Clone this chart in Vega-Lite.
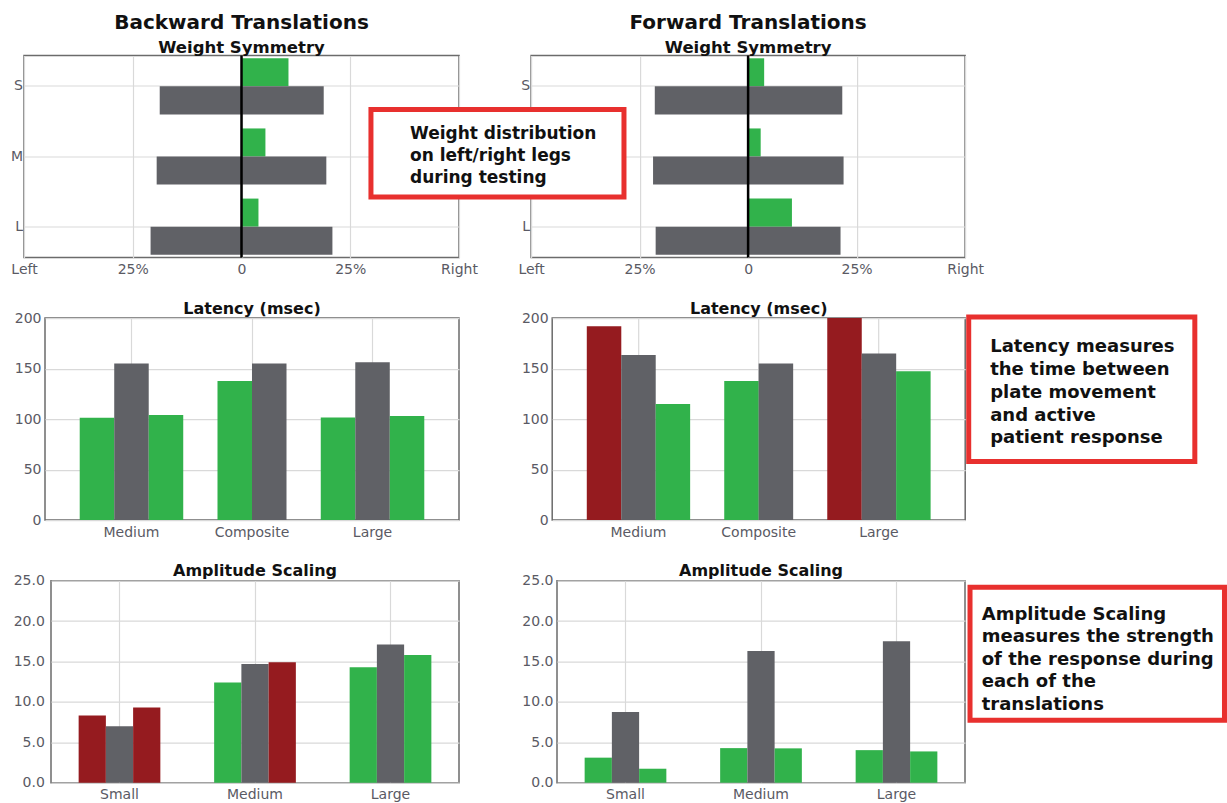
{
  "$schema": "https://vega.github.io/schema/vega-lite/v6.json",
  "background": "white",
  "padding": {"left": 9, "top": 11.5, "right": 0, "bottom": 0},
  "columns": 1,
  "spacing": 21.6,
  "resolve": {"scale": {"x": "independent", "y": "independent", "xOffset": "independent", "yOffset": "independent"}},
  "config": {
    "font": "DejaVu Sans",
    "view": {"stroke": "#6b6b6b", "strokeWidth": 1.5},
    "axis": {"labelFont": "DejaVu Sans", "labelFontSize": 14, "labelColor": "#5a5a64", "ticks": false, "domain": false, "gridColor": "#d9d9d9", "gridWidth": 1.2, "labelOverlap": false},
    "title": {"font": "DejaVu Sans", "fontSize": 16, "fontWeight": "bold", "color": "#111111", "baseline": "alphabetic", "offset": -5.5, "frame": "group"}
  },
  "datasets": {
    "ws": [
      {"dir": "Backward", "level": "S", "series": "Weight shift", "status": "Within normal range", "lo": 0, "hi": 10.8},
      {"dir": "Backward", "level": "S", "series": "Weight range", "status": "Normal reference", "lo": -18.8, "hi": 18.9},
      {"dir": "Backward", "level": "M", "series": "Weight shift", "status": "Within normal range", "lo": 0, "hi": 5.5},
      {"dir": "Backward", "level": "M", "series": "Weight range", "status": "Normal reference", "lo": -19.5, "hi": 19.5},
      {"dir": "Backward", "level": "L", "series": "Weight shift", "status": "Within normal range", "lo": 0, "hi": 3.9},
      {"dir": "Backward", "level": "L", "series": "Weight range", "status": "Normal reference", "lo": -20.9, "hi": 20.9},
      {"dir": "Forward", "level": "S", "series": "Weight shift", "status": "Within normal range", "lo": 0, "hi": 3.7},
      {"dir": "Forward", "level": "S", "series": "Weight range", "status": "Normal reference", "lo": -21.5, "hi": 21.7},
      {"dir": "Forward", "level": "M", "series": "Weight shift", "status": "Within normal range", "lo": 0, "hi": 2.9},
      {"dir": "Forward", "level": "M", "series": "Weight range", "status": "Normal reference", "lo": -21.9, "hi": 22.0},
      {"dir": "Forward", "level": "L", "series": "Weight shift", "status": "Within normal range", "lo": 0, "hi": 10.1},
      {"dir": "Forward", "level": "L", "series": "Weight range", "status": "Normal reference", "lo": -21.3, "hi": 21.3}
    ],
    "lat": [
      {"dir": "Backward", "translation": "Medium", "bar": "Left", "status": "Within normal range", "value": 101.3},
      {"dir": "Backward", "translation": "Medium", "bar": "Normal", "status": "Normal reference", "value": 155.1},
      {"dir": "Backward", "translation": "Medium", "bar": "Right", "status": "Within normal range", "value": 104},
      {"dir": "Backward", "translation": "Composite", "bar": "Composite", "status": "Within normal range", "value": 137.6},
      {"dir": "Backward", "translation": "Composite", "bar": "Composite normal", "status": "Normal reference", "value": 155},
      {"dir": "Backward", "translation": "Large", "bar": "Left", "status": "Within normal range", "value": 101.7},
      {"dir": "Backward", "translation": "Large", "bar": "Normal", "status": "Normal reference", "value": 156.4},
      {"dir": "Backward", "translation": "Large", "bar": "Right", "status": "Within normal range", "value": 103},
      {"dir": "Forward", "translation": "Medium", "bar": "Left", "status": "Outside normal range", "value": 192},
      {"dir": "Forward", "translation": "Medium", "bar": "Normal", "status": "Normal reference", "value": 163.4},
      {"dir": "Forward", "translation": "Medium", "bar": "Right", "status": "Within normal range", "value": 114.9},
      {"dir": "Forward", "translation": "Composite", "bar": "Composite", "status": "Within normal range", "value": 137.6},
      {"dir": "Forward", "translation": "Composite", "bar": "Composite normal", "status": "Normal reference", "value": 155},
      {"dir": "Forward", "translation": "Large", "bar": "Left", "status": "Outside normal range", "value": 200},
      {"dir": "Forward", "translation": "Large", "bar": "Normal", "status": "Normal reference", "value": 165},
      {"dir": "Forward", "translation": "Large", "bar": "Right", "status": "Within normal range", "value": 147.5}
    ],
    "amp": [
      {"dir": "Backward", "translation": "Small", "bar": "Left", "status": "Outside normal range", "value": 8.33},
      {"dir": "Backward", "translation": "Small", "bar": "Normal", "status": "Normal reference", "value": 7.0},
      {"dir": "Backward", "translation": "Small", "bar": "Right", "status": "Outside normal range", "value": 9.32},
      {"dir": "Backward", "translation": "Medium", "bar": "Left", "status": "Within normal range", "value": 12.4},
      {"dir": "Backward", "translation": "Medium", "bar": "Normal", "status": "Normal reference", "value": 14.7},
      {"dir": "Backward", "translation": "Medium", "bar": "Right", "status": "Outside normal range", "value": 14.9},
      {"dir": "Backward", "translation": "Large", "bar": "Left", "status": "Within normal range", "value": 14.3},
      {"dir": "Backward", "translation": "Large", "bar": "Normal", "status": "Normal reference", "value": 17.1},
      {"dir": "Backward", "translation": "Large", "bar": "Right", "status": "Within normal range", "value": 15.8},
      {"dir": "Forward", "translation": "Small", "bar": "Left", "status": "Within normal range", "value": 3.1},
      {"dir": "Forward", "translation": "Small", "bar": "Normal", "status": "Normal reference", "value": 8.75},
      {"dir": "Forward", "translation": "Small", "bar": "Right", "status": "Within normal range", "value": 1.73},
      {"dir": "Forward", "translation": "Medium", "bar": "Left", "status": "Within normal range", "value": 4.28},
      {"dir": "Forward", "translation": "Medium", "bar": "Normal", "status": "Normal reference", "value": 16.3},
      {"dir": "Forward", "translation": "Medium", "bar": "Right", "status": "Within normal range", "value": 4.25},
      {"dir": "Forward", "translation": "Large", "bar": "Left", "status": "Within normal range", "value": 4.03},
      {"dir": "Forward", "translation": "Large", "bar": "Normal", "status": "Normal reference", "value": 17.5},
      {"dir": "Forward", "translation": "Large", "bar": "Right", "status": "Within normal range", "value": 3.87}
    ]
  },
  "concat": [
    {
      "hconcat": [
        {
          "hconcat": [
            {"width": 14, "height": 1, "data": {"values": []}, "mark": {"type": "point", "opacity": 0}, "view": {"stroke": null, "fill": null}},
            {
              "width": 435, "height": 202,
              "title": {"text": "Backward Translations", "subtitle": "Weight Symmetry", "fontSize": 20, "subtitleFont": "DejaVu Sans", "subtitleFontSize": 16.5, "subtitleFontWeight": "bold", "subtitleColor": "#111111", "subtitlePadding": 7, "offset": -1.8},
              "layer": [
                {
                  "data": {"name": "ws"},
                  "transform": [{"filter": "datum.dir === 'Backward'"}],
                  "mark": {"type": "bar"},
                  "encoding": {
                    "y": {"field": "level", "type": "nominal", "sort": ["S", "M", "L"], "scale": {"paddingInner": 0.2, "paddingOuter": 0.04}, "axis": {"title": null, "grid": true, "bandPosition": 0.5, "labelPadding": 1.5, "labelAngle": 0}},
                    "yOffset": {"field": "series", "type": "nominal", "scale": {"domain": ["Weight shift", "Weight range"], "paddingInner": 0, "paddingOuter": 0}},
                    "x": {"field": "lo", "type": "quantitative", "scale": {"domain": [-50, 50], "nice": false, "zero": false}, "axis": {"title": null, "values": [-50, -25, 0, 25, 50], "labelExpr": "datum.value < -30 ? 'Left' : datum.value > 30 ? 'Right' : datum.value == 0 ? '0' : '25%'", "grid": true, "labelFlush": false, "labelPadding": 5}},
                    "x2": {"field": "hi"},
                    "color": {"field": "status", "type": "nominal", "scale": {"domain": ["Within normal range", "Outside normal range", "Normal reference"], "range": ["#31b24b", "#951b1f", "#606166"]}, "legend": null}
                  }
                },
                {
                  "data": {"values": [{}]},
                  "mark": {"type": "rule", "color": "#000000", "strokeWidth": 2.5},
                  "encoding": {"x": {"datum": 0, "type": "quantitative", "scale": {"domain": [-50, 50], "nice": false, "zero": false}}}
                }
              ]
            }
          ],
          "spacing": 0,
          "bounds": "flush"
        },
        {
          "width": 434, "height": 202,
          "title": {"text": "Forward Translations", "subtitle": "Weight Symmetry", "fontSize": 20, "subtitleFont": "DejaVu Sans", "subtitleFontSize": 16.5, "subtitleFontWeight": "bold", "subtitleColor": "#111111", "subtitlePadding": 7, "offset": -1.8},
          "resolve": {"scale": {"y": "independent"}},
          "layer": [
            {
              "data": {"name": "ws"},
              "transform": [{"filter": "datum.dir === 'Forward'"}],
              "mark": {"type": "bar"},
              "encoding": {
                "y": {"field": "level", "type": "nominal", "sort": ["S", "M", "L"], "scale": {"paddingInner": 0.2, "paddingOuter": 0.04}, "axis": {"title": null, "grid": true, "bandPosition": 0.5, "labelPadding": 1.5, "labelAngle": 0}},
                "yOffset": {"field": "series", "type": "nominal", "scale": {"domain": ["Weight shift", "Weight range"], "paddingInner": 0, "paddingOuter": 0}},
                "x": {"field": "lo", "type": "quantitative", "scale": {"domain": [-50, 50], "nice": false, "zero": false}, "axis": {"title": null, "values": [-50, -25, 0, 25, 50], "labelExpr": "datum.value < -30 ? 'Left' : datum.value > 30 ? 'Right' : datum.value == 0 ? '0' : '25%'", "grid": true, "labelFlush": false, "labelPadding": 5}},
                "x2": {"field": "hi"},
                "color": {"field": "status", "type": "nominal", "scale": {"domain": ["Within normal range", "Outside normal range", "Normal reference"], "range": ["#31b24b", "#951b1f", "#606166"]}, "legend": null}
              }
            },
            {
              "data": {"values": [{}]},
              "mark": {"type": "rule", "color": "#000000", "strokeWidth": 2.5},
              "encoding": {"x": {"datum": 0, "type": "quantitative", "scale": {"domain": [-50, 50], "nice": false, "zero": false}}}
            },
            {
              "data": {"values": [{}]},
              "mark": {"type": "rect", "fill": "#ffffff", "stroke": "#e8302e", "strokeWidth": 5},
              "encoding": {
                "x": {"datum": -86.9, "type": "quantitative", "scale": {"domain": [-50, 50], "nice": false, "zero": false}},
                "x2": {"datum": -28.6},
                "y": {"datum": 0.2995, "type": "quantitative", "scale": {"domain": [0, 1], "nice": false, "zero": false}, "axis": null},
                "y2": {"datum": 0.733}
              }
            },
            {
              "data": {"values": [{}]},
              "mark": {"type": "text", "text": ["Weight distribution", "on left/right legs", "during testing"], "align": "left", "baseline": "alphabetic", "lineHeight": 22.3, "font": "DejaVu Sans", "fontWeight": "bold", "fontSize": 17, "color": "#111111"},
              "encoding": {
                "x": {"datum": -77.9, "type": "quantitative", "scale": {"domain": [-50, 50], "nice": false, "zero": false}},
                "y": {"datum": 0.589, "type": "quantitative", "scale": {"domain": [0, 1], "nice": false, "zero": false}, "axis": null}
              }
            }
          ]
        }
      ],
      "spacing": -111.9,
      "resolve": {"scale": {"x": "independent", "y": "independent", "xOffset": "independent", "yOffset": "independent"}}
    },
    {
      "hconcat": [
        {
          "hconcat": [
            {"width": 35, "height": 1, "data": {"values": []}, "mark": {"type": "point", "opacity": 0}, "view": {"stroke": null, "fill": null}},
            {
              "width": 414, "height": 202,
              "title": {"text": "Latency (msec)"},
              "data": {"name": "lat"},
              "transform": [{"filter": "datum.dir === 'Backward'"}],
              "mark": {"type": "bar", "size": 34.5},
              "encoding": {
                "x": {"field": "translation", "type": "nominal", "sort": ["Medium", "Composite", "Large"], "scale": {"paddingInner": 0.141, "paddingOuter": 0.288}, "axis": {"title": null, "labelAngle": 0, "grid": true, "bandPosition": 0.5, "labelPadding": 5}},
                "xOffset": {"field": "bar", "type": "nominal", "scale": {"domain": ["Left", "Composite", "Normal", "Composite normal", "Right"], "paddingInner": 0, "paddingOuter": 0.5}},
                "y": {"field": "value", "type": "quantitative", "scale": {"domain": [0, 200], "nice": false}, "axis": {"title": null, "values": [0, 50, 100, 150, 200], "grid": true, "labelPadding": 4}},
                "color": {"field": "status", "type": "nominal", "scale": {"domain": ["Within normal range", "Outside normal range", "Normal reference"], "range": ["#31b24b", "#951b1f", "#606166"]}, "legend": null}
              }
            }
          ],
          "spacing": 0,
          "bounds": "flush"
        },
        {
          "width": 413, "height": 202,
          "title": {"text": "Latency (msec)"},
          "resolve": {"scale": {"x": "independent", "y": "independent"}},
          "layer": [
            {
              "data": {"name": "lat"},
              "transform": [{"filter": "datum.dir === 'Forward'"}],
              "mark": {"type": "bar", "size": 34.5},
              "encoding": {
                "x": {"field": "translation", "type": "nominal", "sort": ["Medium", "Composite", "Large"], "scale": {"paddingInner": 0.141, "paddingOuter": 0.288}, "axis": {"title": null, "labelAngle": 0, "grid": true, "bandPosition": 0.5, "labelPadding": 5}},
                "xOffset": {"field": "bar", "type": "nominal", "scale": {"domain": ["Left", "Composite", "Normal", "Composite normal", "Right"], "paddingInner": 0, "paddingOuter": 0.5}},
                "y": {"field": "value", "type": "quantitative", "scale": {"domain": [0, 200], "nice": false}, "axis": {"title": null, "values": [0, 50, 100, 150, 200], "grid": true, "labelPadding": 4}},
                "color": {"field": "status", "type": "nominal", "scale": {"domain": ["Within normal range", "Outside normal range", "Normal reference"], "range": ["#31b24b", "#951b1f", "#606166"]}, "legend": null}
              }
            },
            {
              "data": {"values": [{}]},
              "mark": {"type": "rect", "fill": "#ffffff", "stroke": "#e8302e", "strokeWidth": 5},
              "encoding": {
                "x": {"datum": 1.0085, "type": "quantitative", "scale": {"domain": [0, 1], "nice": false, "zero": false}, "axis": null},
                "x2": {"datum": 1.556},
                "y": {"datum": 0.2896, "type": "quantitative", "scale": {"domain": [0, 1], "nice": false, "zero": false}, "axis": null},
                "y2": {"datum": 1.005}
              }
            },
            {
              "data": {"values": [{}]},
              "mark": {"type": "text", "text": ["Latency measures", "the time between", "plate movement", "and active", "patient response"], "align": "left", "baseline": "alphabetic", "lineHeight": 22.7, "font": "DejaVu Sans", "fontWeight": "bold", "fontSize": 18, "color": "#111111"},
              "encoding": {
                "x": {"datum": 1.0605, "type": "quantitative", "scale": {"domain": [0, 1], "nice": false, "zero": false}, "axis": null},
                "y": {"datum": 0.83, "type": "quantitative", "scale": {"domain": [0, 1], "nice": false, "zero": false}, "axis": null}
              }
            }
          ]
        }
      ],
      "spacing": 60.2,
      "resolve": {"scale": {"x": "independent", "y": "independent", "xOffset": "independent", "yOffset": "independent"}}
    },
    {
      "hconcat": [
        {
          "hconcat": [
            {"width": 41, "height": 1, "data": {"values": []}, "mark": {"type": "point", "opacity": 0}, "view": {"stroke": null, "fill": null}},
            {
              "width": 408, "height": 202,
              "title": {"text": "Amplitude Scaling"},
              "data": {"name": "amp"},
              "transform": [{"filter": "datum.dir === 'Backward'"}],
              "mark": {"type": "bar"},
              "encoding": {
                "x": {"field": "translation", "type": "nominal", "sort": ["Small", "Medium", "Large"], "scale": {"paddingInner": 0.397, "paddingOuter": 0.204}, "axis": {"title": null, "labelAngle": 0, "grid": true, "bandPosition": 0.5, "labelPadding": 5}},
                "xOffset": {"field": "bar", "type": "nominal", "scale": {"domain": ["Left", "Normal", "Right"], "paddingInner": 0, "paddingOuter": 0}},
                "y": {"field": "value", "type": "quantitative", "scale": {"domain": [0, 25], "nice": false}, "axis": {"title": null, "values": [0, 5, 10, 15, 20, 25], "format": ".1f", "grid": true, "labelPadding": 6.7}},
                "color": {"field": "status", "type": "nominal", "scale": {"domain": ["Within normal range", "Outside normal range", "Normal reference"], "range": ["#31b24b", "#951b1f", "#606166"]}, "legend": null}
              }
            }
          ],
          "spacing": 0,
          "bounds": "flush"
        },
        {
          "width": 408, "height": 202,
          "title": {"text": "Amplitude Scaling"},
          "resolve": {"scale": {"x": "independent", "y": "independent"}},
          "layer": [
            {
              "data": {"name": "amp"},
              "transform": [{"filter": "datum.dir === 'Forward'"}],
              "mark": {"type": "bar"},
              "encoding": {
                "x": {"field": "translation", "type": "nominal", "sort": ["Small", "Medium", "Large"], "scale": {"paddingInner": 0.397, "paddingOuter": 0.204}, "axis": {"title": null, "labelAngle": 0, "grid": true, "bandPosition": 0.5, "labelPadding": 5}},
                "xOffset": {"field": "bar", "type": "nominal", "scale": {"domain": ["Left", "Normal", "Right"], "paddingInner": 0, "paddingOuter": 0}},
                "y": {"field": "value", "type": "quantitative", "scale": {"domain": [0, 25], "nice": false}, "axis": {"title": null, "values": [0, 5, 10, 15, 20, 25], "format": ".1f", "grid": true, "labelPadding": 4}},
                "color": {"field": "status", "type": "nominal", "scale": {"domain": ["Within normal range", "Outside normal range", "Normal reference"], "range": ["#31b24b", "#951b1f", "#606166"]}, "legend": null}
              }
            },
            {
              "data": {"values": [{}]},
              "mark": {"type": "rect", "fill": "#ffffff", "stroke": "#e8302e", "strokeWidth": 5},
              "encoding": {
                "x": {"datum": 1.0123, "type": "quantitative", "scale": {"domain": [0, 1], "nice": false, "zero": false}, "axis": null},
                "x2": {"datum": 1.636},
                "y": {"datum": 0.3094, "type": "quantitative", "scale": {"domain": [0, 1], "nice": false, "zero": false}, "axis": null},
                "y2": {"datum": 0.968}
              }
            },
            {
              "data": {"values": [{}]},
              "mark": {"type": "text", "text": ["Amplitude Scaling", "measures the strength", "of the response during", "each of the", "translations"], "align": "left", "baseline": "alphabetic", "lineHeight": 22.5, "font": "DejaVu Sans", "fontWeight": "bold", "fontSize": 18, "color": "#111111"},
              "encoding": {
                "x": {"datum": 1.041, "type": "quantitative", "scale": {"domain": [0, 1], "nice": false, "zero": false}, "axis": null},
                "y": {"datum": 0.807, "type": "quantitative", "scale": {"domain": [0, 1], "nice": false, "zero": false}, "axis": null}
              }
            }
          ]
        }
      ],
      "spacing": 61,
      "resolve": {"scale": {"x": "independent", "y": "independent", "xOffset": "independent", "yOffset": "independent"}}
    }
  ]
}
